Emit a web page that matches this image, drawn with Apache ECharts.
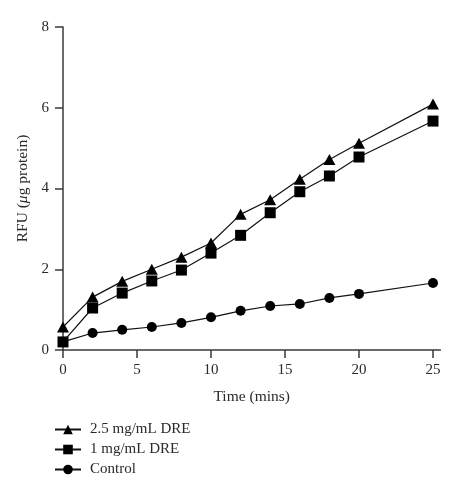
<!DOCTYPE html>
<html><head><meta charset="utf-8">
<script src="https://cdn.jsdelivr.net/npm/echarts@6/dist/echarts.min.js"></script>
<style>html,body{margin:0;padding:0;background:#fff}#c{width:459px;height:487px}</style>
</head><body><div id="c"></div>
<script>
const times = [0, 2, 4, 6, 8, 10, 12, 14, 16, 18, 20, 25];
const dre25 = [0.57, 1.31, 1.70, 2.00, 2.30, 2.65, 3.36, 3.72, 4.23, 4.72, 5.12, 6.09];
const dre1 = [0.20, 1.04, 1.41, 1.71, 1.98, 2.40, 2.84, 3.40, 3.92, 4.31, 4.78, 5.67];
const control = [0.20, 0.42, 0.50, 0.57, 0.67, 0.81, 0.97, 1.09, 1.14, 1.29, 1.39, 1.66];
const xTicks = [0, 5, 10, 15, 20, 25];
const yTicks = [0, 2, 4, 6, 8];
const seriesNames = ['2.5 mg/mL DRE', '1 mg/mL DRE', 'Control'];

const font = 'Liberation Serif';
const txt = '#2a2a2a';
const pair = arr => times.map((t, i) => [t, arr[i]]);
const mk = (name, data, symbol, size) => ({
  name, type: 'line', data: pair(data), symbol, symbolSize: size,
  lineStyle: { color: '#111', width: 1.2 },
  itemStyle: { color: '#000' },
  emphasis: { disabled: true }, animation: false
});

const chart = echarts.init(document.getElementById('c'));
chart.setOption({
  animation: false,
  grid: { left: 63, top: 27, width: 377.4, height: 323 },
  legend: {
    orient: 'vertical', left: 49, top: 417, itemGap: 5,
    itemWidth: 26, itemHeight: 12,
    data: seriesNames,
    textStyle: { fontFamily: font, fontSize: 15, color: txt, padding: [0, 0, 0, 4] }
  },
  xAxis: {
    type: 'value', min: 0, max: 25.5,
    name: 'Time (mins)', nameLocation: 'middle', nameGap: 39,
    nameTextStyle: { fontFamily: font, fontSize: 15.5, color: txt },
    axisLine: { show: true, lineStyle: { color: '#3a3a3a', width: 1.5 } },
    axisTick: { show: true, inside: false, length: 8, customValues: xTicks, lineStyle: { color: '#3a3a3a', width: 1.5 } },
    axisLabel: { customValues: xTicks, margin: 13, fontFamily: font, fontSize: 15, color: txt },
    splitLine: { show: false }
  },
  yAxis: {
    type: 'value', min: 0, max: 8, interval: 2,
    name: '{a|RFU (}{b|μ}{a|g protein)}', nameLocation: 'middle', nameGap: 30,
    nameTextStyle: { fontFamily: font, fontSize: 15.5, color: txt,
      rich: { a: { fontFamily: font, fontSize: 15.5, color: txt }, b: { fontFamily: font, fontSize: 15.5, fontStyle: 'italic', color: txt } } },
    axisLine: { show: true, lineStyle: { color: '#3a3a3a', width: 1.5 } },
    axisTick: { show: true, length: 8, lineStyle: { color: '#3a3a3a', width: 1.5 } },
    axisLabel: { margin: 14, fontFamily: font, fontSize: 15, color: txt },
    splitLine: { show: false }
  },
  series: [
    mk(seriesNames[0], dre25, 'triangle', [12, 11]),
    mk(seriesNames[1], dre1, 'rect', 11),
    mk(seriesNames[2], control, 'circle', 10)
  ]
});
</script></body></html>
